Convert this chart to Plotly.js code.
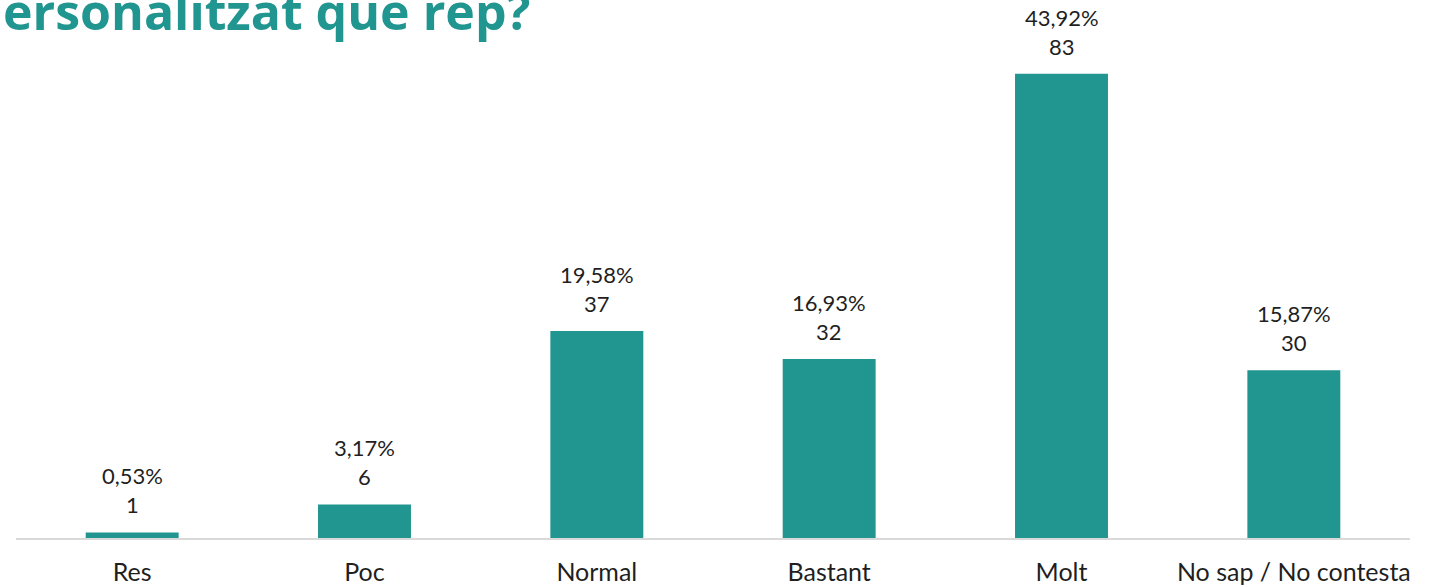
<!DOCTYPE html>
<html>
<head>
<meta charset="utf-8">
<script src="https://cdn.plot.ly/plotly-3.0.1.min.js"></script>
<style>html,body{margin:0;padding:0;background:#fff;}#chart{width:1438px;height:587px;}</style>
</head>
<body>
<div id="chart"></div>
<script>
const categories = ["Res", "Poc", "Normal", "Bastant", "Molt", "No sap / No contesta"];
const counts = [1, 6, 37, 32, 83, 30];
const percents = ["0,53%", "3,17%", "19,58%", "16,93%", "43,92%", "15,87%"];
const titleText = "ersonalitzat que rep?";

const teal = "#21958f";
const textColor = "#1f1f1f";
const font = "Lato, 'Open Sans', sans-serif";

const trace = {
  type: "bar",
  x: categories,
  y: counts,
  marker: {color: teal},
  hoverinfo: "none"
};

const annotations = categories.map((c, i) => ({
  x: c, y: counts[i], xref: "x", yref: "y",
  text: percents[i] + "<br>" + counts[i],
  showarrow: false, yanchor: "bottom", yshift: 12,
  font: {family: font, size: 22, color: textColor}
}));
annotations.push({
  x: 0.3705, y: 1, xref: "paper", yref: "paper",
  xanchor: "right", yanchor: "middle", yshift: -11,
  text: "<b>" + titleText + "</b>", showarrow: false,
  font: {family: "'Open Sans', sans-serif", size: 50, color: teal}
});

const layout = {
  width: 1438, height: 587,
  margin: {l: 16, r: 28, t: 0, b: 49},
  paper_bgcolor: "#fff", plot_bgcolor: "#fff",
  bargap: 0.6,
  showlegend: false,
  xaxis: {
    type: "category",
    showline: true, linecolor: "#d9d9d9", linewidth: 1.5,
    showgrid: false, zeroline: false, ticks: "",
    ticklabelstandoff: 11,
    tickfont: {family: font, size: 25, color: textColor},
    fixedrange: true
  },
  yaxis: {
    range: [0, 96.2], visible: false, fixedrange: true
  },
  annotations: annotations
};

Plotly.newPlot("chart", [trace], layout, {staticPlot: true, displayModeBar: false});
</script>
</body>
</html>
